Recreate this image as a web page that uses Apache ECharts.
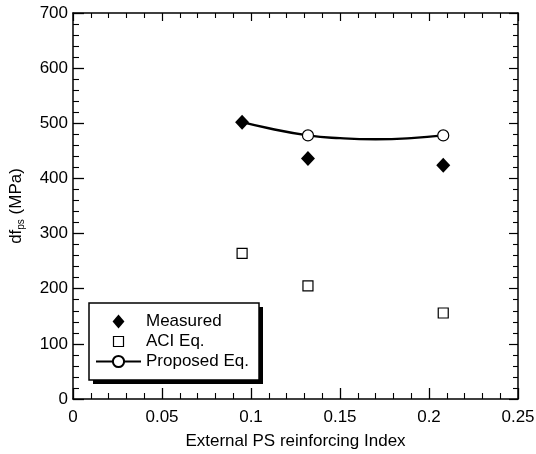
<!DOCTYPE html>
<html>
<head>
<meta charset="utf-8">
<script src="https://cdn.jsdelivr.net/npm/echarts@6/dist/echarts.min.js"></script>
<style>html,body{margin:0;padding:0;background:#fff;}#c{width:536px;height:454px;}</style>
</head>
<body>
<div id="c"></div>
<script>
// Data
const xIndex = [0.095, 0.132, 0.208];
const measured = [502, 436, 424];
const aciEq = [264, 205, 156];
const proposed = [502, 478, 478];
// Points along the drawn Proposed Eq. curve
const curveX = [0.095, 0.11, 0.132, 0.15, 0.17, 0.19, 0.208];
const curveY = [502, 491, 478, 473, 471, 473, 478];

const xTicks = {min: 0, max: 0.25, interval: 0.05};
const yTicks = {min: 0, max: 700, interval: 100};

const FONT = 'Liberation Sans, Arial, sans-serif';

// markers only where the proposed values are (first one hidden under the measured diamond)
const curveData = curveX.map((x, i) => {
  const k = xIndex.indexOf(x);
  const item = {value: [x, curveY[i]]};
  if (k < 1) item.symbol = 'none';
  else item.value = [x, proposed[k]];
  return item;
});

const axisCommon = {
  axisLine: {show: true, onZero: false, lineStyle: {color: '#000', width: 1.5}},
  axisTick: {show: true, inside: true, length: 11, lineStyle: {color: '#000', width: 1.3}},
  minorTick: {show: true, splitNumber: 5, length: 6, lineStyle: {color: '#000', width: 1.1}},
  splitLine: {show: false},
  minorSplitLine: {show: false}
};

const option = {
  animation: false,
  backgroundColor: '#fff',
  textStyle: {fontFamily: FONT},
  grid: {left: 73, right: 18, top: 13, bottom: 55, containLabel: false, outerBoundsMode: 'none'},
  graphic: [{
    type: 'rect', z: 1, silent: true,
    shape: {x: 93, y: 307, width: 170, height: 77},
    style: {fill: '#000'}
  }],
  xAxis: [
    Object.assign({
      type: 'value', position: 'bottom', min: xTicks.min, max: xTicks.max, interval: xTicks.interval,
      name: 'External PS reinforcing Index', nameLocation: 'middle', nameGap: 34,
      nameTextStyle: {fontSize: 17, color: '#000', fontFamily: FONT},
      axisLabel: {fontSize: 17, color: '#000', fontFamily: FONT, margin: 10,
        formatter: v => (Math.round(v * 100) / 100).toString()}
    }, axisCommon),
    Object.assign({
      type: 'value', position: 'top', min: xTicks.min, max: xTicks.max, interval: xTicks.interval,
      axisLabel: {show: false},
      axisTick: {show: true, inside: true, length: 8, lineStyle: {color: '#000', width: 1.2}},
      minorTick: {show: true, splitNumber: 5, length: 5, lineStyle: {color: '#000', width: 1.1}}
    }, {axisLine: axisCommon.axisLine, splitLine: {show: false}})
  ],
  yAxis: [
    Object.assign({
      type: 'value', position: 'left', min: yTicks.min, max: yTicks.max, interval: yTicks.interval,
      name: '{a|df}{b|ps}{a| (MPa)}', nameLocation: 'middle', nameGap: 47, nameRotate: 90,
      nameTextStyle: {
        color: '#000', fontFamily: FONT,
        rich: {
          a: {fontSize: 17, fontFamily: FONT, color: '#000', lineHeight: 20},
          b: {fontSize: 10, fontFamily: FONT, color: '#000', lineHeight: 10, verticalAlign: 'bottom'}
        }
      },
      axisLabel: {fontSize: 17, color: '#000', fontFamily: FONT, margin: 5}
    }, axisCommon),
    Object.assign({
      type: 'value', position: 'right', min: yTicks.min, max: yTicks.max, interval: yTicks.interval,
      axisLabel: {show: false},
      axisTick: {show: true, inside: true, length: 9, lineStyle: {color: '#000', width: 1.2}},
      minorTick: {show: true, splitNumber: 5, length: 5, lineStyle: {color: '#000', width: 1.1}}
    }, {axisLine: axisCommon.axisLine, splitLine: {show: false}})
  ],
  legend: {
    orient: 'vertical', left: 89, top: 303, z: 3,
    padding: [10, 10, 10, 6], itemGap: 3, itemWidth: 45, itemHeight: 14,
    backgroundColor: '#fff', borderColor: '#000', borderWidth: 1.5,
    textStyle: {fontSize: 17, color: '#000', fontFamily: FONT, padding: [0, 0, 0, 0]},
    symbolKeepAspect: true,
    data: [
      {name: 'Measured', icon: 'path://M0,-1L0.85,0L0,1L-0.85,0Z'},
      {name: 'ACI Eq.', icon: 'path://M-2,-2M0,0L10,0L10,10L0,10ZM12,12', itemStyle: {borderWidth: 1.2}},
      {name: 'Proposed Eq.'}
    ]
  },
  series: [
    {
      name: 'Proposed Eq.', type: 'line', smooth: true, z: 2,
      data: curveData,
      symbol: 'circle', symbolSize: 11, showAllSymbol: true,
      itemStyle: {color: '#fff', borderColor: '#000', borderWidth: 1.2},
      lineStyle: {color: '#000', width: 2.4}
    },
    {
      name: 'ACI Eq.', type: 'scatter', z: 3,
      data: xIndex.map((x, i) => [x, aciEq[i]]),
      symbol: 'rect', symbolSize: 10,
      itemStyle: {color: '#fff', borderColor: '#000', borderWidth: 1.2, opacity: 1}
    },
    {
      name: 'Measured', type: 'scatter', z: 4,
      data: xIndex.map((x, i) => [x, measured[i]]),
      symbol: 'diamond', symbolSize: [14, 15],
      itemStyle: {color: '#000', opacity: 1}
    }
  ]
};

const chart = echarts.init(document.getElementById('c'), null, {renderer: 'canvas'});
chart.setOption(option);
</script>
</body>
</html>
